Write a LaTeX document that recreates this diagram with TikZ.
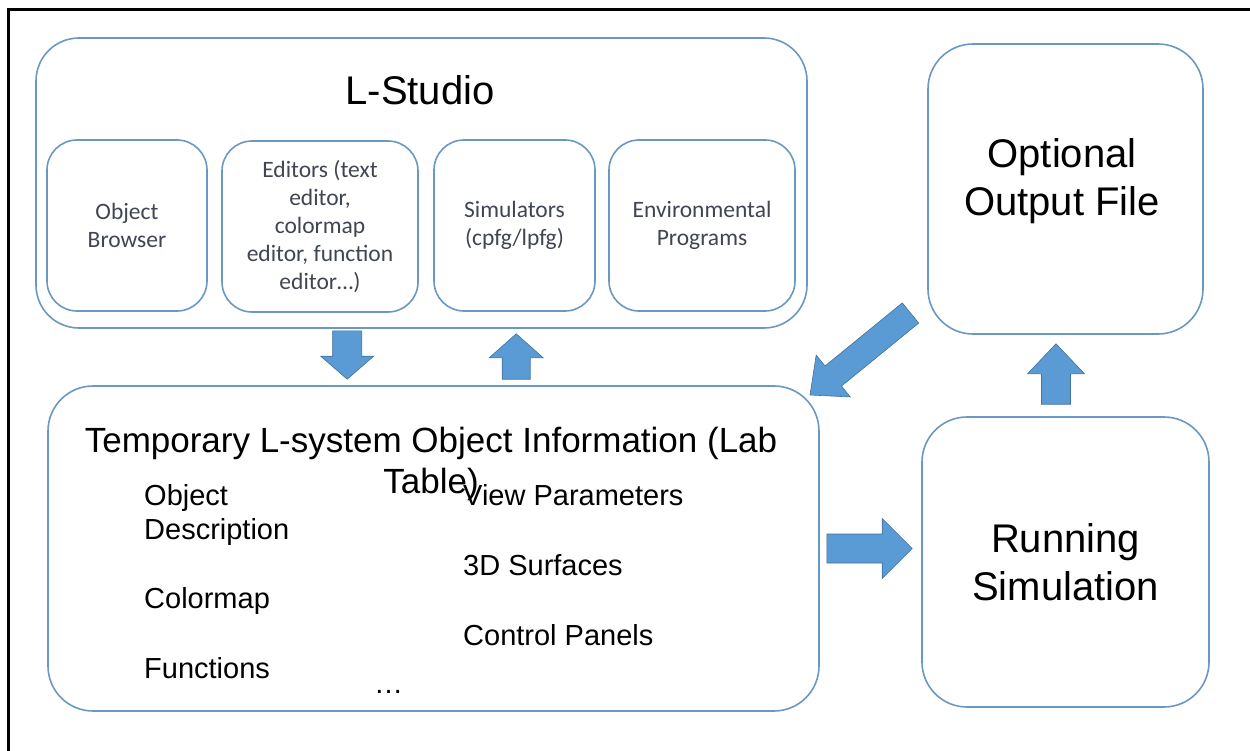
\documentclass[tikz,border=0pt]{standalone}
\usepackage{fontspec}
\setmainfont{Liberation Sans}
\newfontfamily\calib{Carlito}
\usetikzlibrary{calc}
\definecolor{boxline}{HTML}{6A98C2}
\definecolor{arrfill}{HTML}{5B9BD5}
\definecolor{arrline}{HTML}{41719C}
\definecolor{subtext}{HTML}{404552}
\tikzset{
  rbox/.style={draw=boxline, line width=1.6pt, rounded corners=#1, inner sep=0pt},
  rbox/.default=40pt,
  subbox/.style={rbox=30pt, align=center, text=subtext,
    font=\calib\fontsize{23.5}{28}\selectfont},
  bigtext/.style={align=center, font=\fontsize{40}{48}\selectfont, inner sep=0pt},
  itemtext/.style={anchor=base west, font=\fontsize{29}{34}\selectfont, inner sep=0pt},
  labtitle/.style={anchor=base, inner sep=0pt, font=\fontsize{35}{41}\selectfont},
  blockarrow/.style={fill=arrfill, draw=arrline, line width=0.6pt, line join=miter}
}
% #1 start, #2 end, #3 shaft half width, #4 head half width, #5 head length
\newcommand\blkarrow[5]{%
  \path let \p1=(#1), \p2=(#2), \n1={atan2(\y2-\y1,\x2-\x1)}, \n2={veclen(\x2-\x1,\y2-\y1)} in
    [shift={(\p1)}, rotate=\n1]
    [blockarrow] (0pt,-#3pt) -- ({\n2-#5pt},-#3pt) -- ({\n2-#5pt},-#4pt) -- (\n2,0pt)
      -- ({\n2-#5pt},#4pt) -- ({\n2-#5pt},#3pt) -- (0pt,#3pt) -- cycle;}
\begin{document}
\begin{tikzpicture}[x=1pt,y=-1pt]
\useasboundingbox (0,0) rectangle (1250,751);
% frame
\coordinate (fr1) at (8.5,751);
\coordinate (fr2) at (8.5,9.5);
\coordinate (fr3) at (1250,9.5);
\draw[line width=3.5pt] (fr1) -- (fr2) -- (fr3);

% L-Studio
\node[rbox=43pt, minimum width=771pt, minimum height=290pt] (ls) at (421.5,183) {};
\node[inner sep=0pt, font=\fontsize{40}{48}\selectfont] (lst) at (420,90) {L-Studio};
\node[subbox, minimum width=160pt, minimum height=171pt] (ob) at (127,225.5) {Object\\Browser};
\node[subbox, minimum width=196pt, minimum height=171pt] (ed) at (320,226.5) {Editors (text\\editor,\\colormap\\editor, function\\editor…)};
\node[subbox, minimum width=161pt, minimum height=171pt] (sim) at (514.5,225.5) {Simulators\\(cpfg/lpfg)};
\node[subbox, minimum width=186pt, minimum height=171pt] (env) at (702,225.5) {Environmental\\Programs};

% Optional output file
\node[rbox=45pt, minimum width=275pt, minimum height=290pt] (out) at (1065.5,189) {};
\node[bigtext] (outt) at (1062,181) {Optional\\Output File};

% Running simulation
\node[rbox=45pt, minimum width=287pt, minimum height=290pt, bigtext] (run) at (1065.5,562) {Running\\Simulation};

% Lab table
\node[rbox=45pt, minimum width=771pt, minimum height=325pt] (lab) at (433.5,548.5) {};
\node[labtitle] (labt1) at (431,452) {Temporary L-system Object Information (Lab};
\node[labtitle] (labt2) at (431,493) {Table)};
\node[itemtext] (i1) at (144,505) {Object};
\node[itemtext] (i2) at (144,539) {Description};
\node[itemtext] (i3) at (144,608) {Colormap};
\node[itemtext] (i4) at (144,678) {Functions};
\node[itemtext] (i5) at (463,505) {View Parameters};
\node[itemtext] (i6) at (463,575) {3D Surfaces};
\node[itemtext] (i7) at (463,645) {Control Panels};
\node[itemtext] (i8) at (374,693) {…};

% block arrows
\coordinate (a1s) at ($(ls.south west)+(312,2)$);
\coordinate (a1e) at ($(lab.north west)+(300,-6)$);
\blkarrow{a1s}{a1e}{14.5}{26.5}{23}
\coordinate (a2s) at ($(lab.north west)+(469,-6)$);
\coordinate (a2e) at ($(ls.south west)+(481,5)$);
\blkarrow{a2s}{a2e}{14}{27}{24}
\coordinate (a3s) at (910.5,313);
\coordinate (a3e) at (810,395);
\blkarrow{a3s}{a3e}{13}{27}{30}
\coordinate (a4s) at ($(lab.east)+(7,0)$);
\coordinate (a4e) at ($(run.west)+(-9,-13.5)$);
\blkarrow{a4s}{a4e}{14.5}{30}{30}
\coordinate (a5s) at ($(run.north)+(-9.5,-12)$);
\coordinate (a5e) at ($(out.south)+(-9.5,9)$);
\blkarrow{a5s}{a5e}{14.5}{28.5}{30}
\end{tikzpicture}
\end{document}
